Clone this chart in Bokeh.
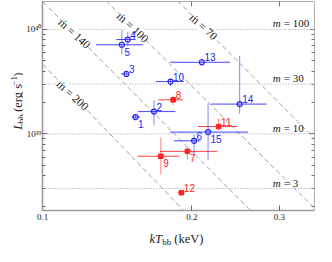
import math
from bokeh.plotting import figure
from bokeh.layouts import column, row
from bokeh.models import (ColumnDataSource, FixedTicker, CustomJSTickFormatter, LogAxis,
                          Label, LabelSet, Range1d, Span)
from bokeh.core.properties import value
from bokeh.embed import file_html
from bokeh.resources import INLINE

# ---------------- data ----------------
src_id = ["1", "2", "3", "4", "5", "6", "7", "8", "9", "10", "11", "12", "13", "14", "15"]
group = ["b", "b", "b", "b", "b", "b", "r", "r", "r", "b", "r", "r", "b", "b", "b"]
kT = [0.1540, 0.1677, 0.1476, 0.1485, 0.1445, 0.2020, 0.1958, 0.1833, 0.1731, 0.1811,
      0.2263, 0.1904, 0.2094, 0.2495, 0.2155]
kT_lo = [0.1511, 0.1558, 0.1438, 0.1408, 0.1282, 0.1839, 0.1724, 0.1711, 0.1555, 0.1692,
         0.2055, 0.1871, 0.1807, 0.2186, 0.1807]
kT_hi = [0.1573, 0.1852, 0.1492, 0.1540, 0.1596, 0.2078, 0.2250, 0.1920, 0.1885, 0.1926,
         0.2471, 0.1931, 0.2384, 0.2825, 0.2591]
Lbb = [1.45e39, 1.636e39, 3.75e39, 8.0e39, 7.13e39, 8.59e38, 6.81e38, 2.12e39, 6.11e38, 3.17e39,
       1.176e39, 2.74e38, 4.85e39, 1.93e39, 1.041e39]
Lbb_lo = [1.355e39, 1.207e39, 3.62e39, 6.99e39, 5.79e39, 6.15e38, 5.67e38, 1.90e39, 4.10e38, 2.87e39,
          1.084e39, 2.63e38, 4.47e39, 1.56e39, 5.67e38]
Lbb_hi = [1.53e39, 2.10e39, 3.88e39, 9.47e39, 9.80e39, 9.86e38, 7.48e38, 2.34e39, 9.22e38, 3.37e39,
          1.41e39, 2.85e38, 5.34e39, 5.59e39, 1.95e39]
label_side = ["below", "above", "above", "above", "below", "above", "below", "above", "below", "above",
              "above", "above", "above", "above", "below"]

# Eddington-limit lines for mass m
m_labels = ["100", "30", "10", "3"]
m_lum = [1e40, 3e39, 1e39, 3e38]

# constant accretion-rate lines (two end points each)
mdot_labels = ["200", "140", "100", "70"]
mdot_T = [[0.0977, 0.2011], [0.0977, 0.2748], [0.1308, 0.366], [0.1822, 0.366]]
mdot_L = [[5.25e39, 1.49e38], [2.07e40, 1.49e38], [2.13e40, 1.64e38], [2.13e40, 7.64e38]]
mdot_label_T = [0.1150, 0.1160, 0.1520, 0.2110]

x_ticks = [0.1, 0.2, 0.3]
x_tick_labels = ["0.1", "0.2", "0.3"]
y_ticks = [1e39, 1e40]
y_tick_labels = ["10\u00b3\u2079", "10\u2074\u2070"]
y_minor = [2e38, 3e38, 4e38, 5e38, 6e38, 7e38, 8e38, 9e38,
           2e39, 3e39, 4e39, 5e39, 6e39, 7e39, 8e39, 9e39]

# ---------------- styling ----------------
BLUE = "#2222ff"
RED = "#ff2020"
SERIF = "Liberation Serif"
SANS = "Liberation Sans"
TXT = "#222222"

YLAB_W = 23
XLAB_H = 22
MAIN_W, MAIN_H = 316 - YLAB_W, 246 - XLAB_H
BL, BR, BT, BB = 16, 2, 1, 14

p = figure(width=MAIN_W, height=MAIN_H, x_axis_type="log", y_axis_type="log",
           x_range=Range1d(0.1, 0.353), y_range=Range1d(1.85e38, 1.85e40),
           output_backend="svg", toolbar_location=None,
           min_border_left=BL, min_border_right=BR, min_border_top=BT, min_border_bottom=BB)
p.xgrid.visible = False
p.ygrid.visible = False
p.outline_line_color = None
p.background_fill_color = "white"

fmt_code = """
let best = 0;
for (let j = 0; j < vals.length; j++) {
  if (Math.abs(Math.log(vals[j] / tick)) < Math.abs(Math.log(vals[best] / tick))) best = j;
}
return labs[best];
"""
xfmt = CustomJSTickFormatter(args=dict(vals=x_ticks, labs=x_tick_labels), code=fmt_code)
yfmt = CustomJSTickFormatter(args=dict(vals=y_ticks, labs=y_tick_labels), code=fmt_code)
blank = CustomJSTickFormatter(code="return '';")

xa = p.xaxis[0]
xa.ticker = FixedTicker(ticks=x_ticks, minor_ticks=[])
xa.formatter = xfmt
ya = p.yaxis[0]
ya.ticker = FixedTicker(ticks=y_ticks, minor_ticks=y_minor)
ya.formatter = yfmt

for ax in (xa, ya):
    ax.major_tick_in = 5
    ax.major_tick_out = 0
    ax.minor_tick_in = 3
    ax.minor_tick_out = 0
    ax.axis_line_color = "#9a9a9a"
    ax.axis_line_width = 1.6
    ax.major_tick_line_color = "#666666"
    ax.minor_tick_line_color = "#666666"
    ax.major_label_text_font = SERIF
    ax.major_label_text_font_size = "9px"
    ax.major_label_text_color = TXT
xa.major_label_standoff = 3
ya.major_label_standoff = 1

top = LogAxis(ticker=FixedTicker(ticks=x_ticks, minor_ticks=[]), formatter=blank)
right = LogAxis(ticker=FixedTicker(ticks=y_ticks, minor_ticks=y_minor), formatter=blank)
for ax in (top, right):
    ax.major_label_text_font_size = "0px"
    ax.major_label_standoff = 0
    ax.major_tick_in = 5
    ax.major_tick_out = 0
    ax.minor_tick_in = 3
    ax.minor_tick_out = 0
    ax.axis_line_color = "#b0b0b0"
    ax.axis_line_width = 1
    ax.major_tick_line_color = "#777777"
    ax.minor_tick_line_color = "#777777"
p.add_layout(top, "above")
p.add_layout(right, "right")

# ---------- Eddington lines ----------
for lum, lab in zip(m_lum, m_labels):
    p.add_layout(Span(location=lum, dimension="width", line_color="#999999",
                      line_dash="1 2", line_width=1))
    p.add_layout(Label(x=0.291, y=lum, text="m", text_font=SERIF, text_font_style="italic",
                       text_font_size="11px", text_color=TXT, text_baseline="bottom"))
    p.add_layout(Label(x=0.291, y=lum, text="= " + lab, text_font=SERIF,
                       text_font_size="11px", text_color=TXT, text_baseline="bottom",
                       x_offset=11))

# ---------- constant mdot lines ----------
p.multi_line(xs=mdot_T, ys=mdot_L, line_color="#a0a0a0", line_dash="5 3", line_width=1)
for ts, ls, lab, tl in zip(mdot_T, mdot_L, mdot_labels, mdot_label_T):
    f = (math.log10(tl) - math.log10(ts[0])) / (math.log10(ts[1]) - math.log10(ts[0]))
    ll = 10 ** (math.log10(ls[0]) + f * (math.log10(ls[1]) - math.log10(ls[0])))
    p.add_layout(Label(x=tl, y=ll, text="\u1e41 = " + lab, text_font=SERIF,
                       text_font_size="11.5px", text_color=TXT,
                       text_align="center", text_baseline="middle", angle=-0.74,
                       background_fill_color="white", background_fill_alpha=1.0))

# ---------- data points ----------
cols = [BLUE if g == "b" else RED for g in group]
src = ColumnDataSource(dict(id=src_id, kT=kT, kT_lo=kT_lo, kT_hi=kT_hi,
                            L=Lbb, L_lo=Lbb_lo, L_hi=Lbb_hi, color=cols,
                            yoff=[5 if s == "above" else -7 for s in label_side]))
p.segment(x0="kT_lo", y0="L", x1="kT_hi", y1="L", source=src, line_color="color",
          line_width=1, line_alpha=0.85)
p.segment(x0="kT", y0="L_lo", x1="kT", y1="L_hi", source=src, line_color="color",
          line_width=1, line_alpha=0.55)

bsrc = ColumnDataSource(dict(x=[k for k, g in zip(kT, group) if g == "b"],
                             y=[l for l, g in zip(Lbb, group) if g == "b"]))
rsrc = ColumnDataSource(dict(x=[k for k, g in zip(kT, group) if g == "r"],
                             y=[l for l, g in zip(Lbb, group) if g == "r"]))
p.scatter("x", "y", source=bsrc, marker="circle", size=5, fill_color=None,
          line_color=BLUE, line_width=1.2)
p.scatter("x", "y", source=rsrc, marker="square", size=4.5, fill_color=RED,
          line_color=RED, line_width=1)

p.add_layout(LabelSet(x="kT", y="L", text="id", source=src, text_color="color",
                      text_font=value(SANS), text_font_size="10px",
                      text_align="left", text_baseline="middle",
                      x_offset=2.5, y_offset="yoff"))


# ---------- axis titles, drawn in small text panels ----------
def text_panel(w, h):
    f = figure(width=w, height=h, x_range=Range1d(0, w), y_range=Range1d(0, h),
               output_backend="svg", toolbar_location=None, min_border=0,
               x_axis_location=None, y_axis_location=None)
    f.grid.visible = False
    f.outline_line_color = None
    f.background_fill_color = "white"
    return f


def piece(f, x, y, text, size, italic=False, angle=0.0):
    f.text(x=[x], y=[y], text=[text], angle=angle, text_font=value(SERIF),
           text_font_size=value(size), text_font_style="italic" if italic else "normal",
           text_color=TXT, text_align="left", text_baseline="alphabetic")


frame_w = MAIN_W - BL - BR
frame_h = MAIN_H - BT - BB

xlab = text_panel(316, XLAB_H)
xc = YLAB_W + BL + 0.498 * frame_w
x0 = xc - 27
piece(xlab, x0, 8, "kT", "12.5px", italic=True)
piece(xlab, x0 + 12.7, 5, "bb", "9px")
piece(xlab, x0 + 24.8, 8, "(keV)", "12.5px")

ylab = text_panel(YLAB_W, MAIN_H)
rot = math.pi / 2
yb = 17.5
yc = BB + 0.493 * frame_h
y0 = yc - 30.6
piece(ylab, yb, y0, "L", "12.5px", italic=True, angle=rot)
piece(ylab, yb + 2.5, y0 + 7.2, "bb", "9px", angle=rot)
piece(ylab, yb, y0 + 19.3, "(erg s", "12.5px", angle=rot)
piece(ylab, yb - 4, y0 + 47.4, "\u22121", "9px", angle=rot)
piece(ylab, yb, y0 + 57, ")", "12.5px", angle=rot)

layout = column(row(ylab, p), xlab)
open("out.html", "w").write(file_html(layout, INLINE))
